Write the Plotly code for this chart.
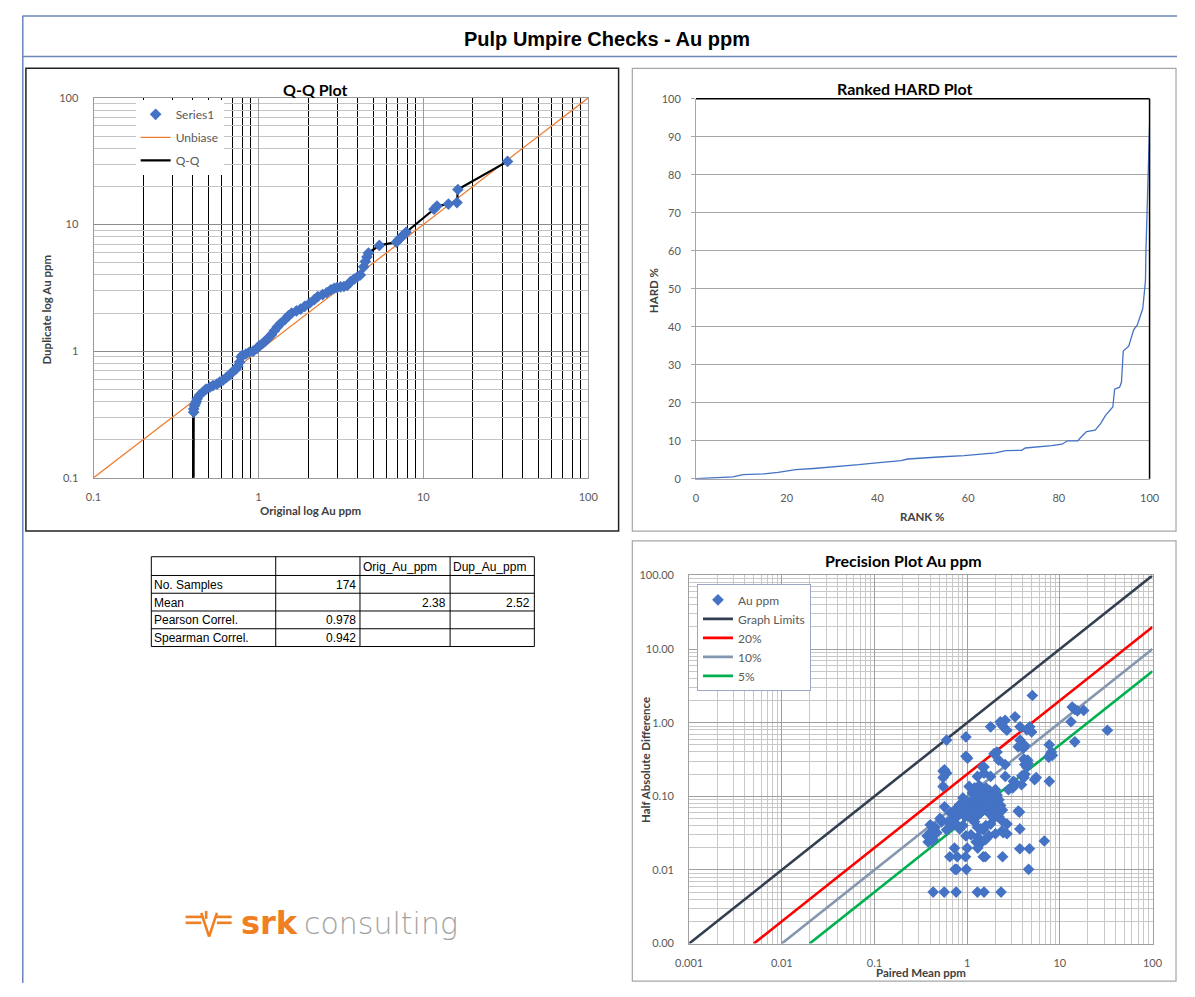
import plotly.graph_objects as go

# page body keeps an 8px margin, so the figure is drawn 8px in from the window edge
OX, OY = 8, 8
FW, FH = 1195 - 2 * OX, 997 - 2 * OY


def px(x):
    return (x - OX) / FW


def py(y):
    return 1 - (y - OY) / FH


# ---------------- data ----------------
qq_orig = [0.404, 0.405, 0.405, 0.41, 0.414, 0.42, 0.425, 0.44, 0.464, 0.48,
           0.508, 0.53, 0.56, 0.583, 0.61, 0.64, 0.669, 0.70, 0.73, 0.75,
           0.77, 0.786, 0.80, 0.84, 0.879, 0.93, 0.98, 1.01, 1.06, 1.10,
           1.156, 1.20, 1.25, 1.30, 1.36, 1.45, 1.52, 1.59, 1.70, 1.80,
           1.91, 2.05, 2.18, 2.29, 2.45, 2.60, 2.75, 2.88, 3.00, 3.15,
           3.30, 3.46, 3.62, 3.80, 3.98, 4.15, 4.35, 4.45, 4.55, 4.65,
           5.41, 6.86, 7.10, 7.34, 7.60, 7.86, 11.6, 12.1, 14.2, 16.0,
           16.2, 32.4]
qq_dup = [0.05, 0.33, 0.35, 0.37, 0.385, 0.40, 0.42, 0.45, 0.48, 0.50,
          0.52, 0.535, 0.55, 0.57, 0.59, 0.62, 0.65, 0.69, 0.72, 0.76,
          0.82, 0.90, 0.93, 0.95, 0.98, 1.00, 1.05, 1.10, 1.15, 1.20,
          1.28, 1.35, 1.45, 1.55, 1.65, 1.78, 1.90, 2.00, 2.08, 2.15,
          2.26, 2.40, 2.55, 2.70, 2.80, 2.90, 3.05, 3.14, 3.18, 3.22,
          3.24, 3.30, 3.54, 3.70, 3.85, 4.00, 4.63, 5.10, 5.55, 5.96,
          6.84, 7.26, 7.60, 7.94, 8.30, 8.69, 13.2, 14.0, 14.5, 14.9,
          18.9, 31.5]
unbias_x = [0.1, 100]
unbias_y = [0.1, 100]

hard_rank = [0, 4.2, 8.1, 10.4, 15.0, 18.1, 20.1, 22.0, 25.9, 29.0,
             32.8, 35.9, 39.8, 42.9, 45.2, 46.7, 49.8, 54.4, 59.1, 62.2,
             66.0, 68.3, 71.8, 72.6, 76.1, 78.4, 80.7, 81.9, 84.2, 84.6,
             86.1, 88.0, 89.2, 90.3, 91.9, 92.3, 93.4, 93.8, 94.2, 95.4,
             96.5, 97.3, 98.5, 98.8, 99.1, 99.2, 99.6, 100]
hard_pct = [0, 0.26, 0.5, 1.1, 1.3, 1.7, 2.0, 2.4, 2.7, 3.0,
            3.3, 3.7, 4.2, 4.6, 4.8, 5.2, 5.5, 5.8, 6.1, 6.5,
            6.8, 7.4, 7.5, 8.1, 8.4, 8.7, 9.1, 10.0, 10.0, 10.6,
            12.4, 12.8, 14.5, 16.7, 18.9, 23.6, 24.1, 25.4, 33.6, 34.9,
            39.2, 40.5, 44.8, 47.9, 52.2, 60.0, 79.9, 93.3]

prec_mean = [5.05, 13.6, 14.5, 18.1, 15.5, 13.2, 14.5, 32.6,
             3.29, 2.28, 2.57, 2.46, 2.68, 1.79, 4.73, 3.72, 4.96, 2.35, 4.4,
             0.60, 0.97, 3.72, 4.03, 7.7, 7.9, 8.1, 7.6, 8.3,
             0.97, 1.01, 2.1, 1.95, 4.1, 4.3, 4.5, 3.56, 4.19, 4.19, 4.54,
             4.2, 4.1, 4.4, 3.9, 0.55, 0.57, 0.60, 0.55, 0.55,
             1.52, 1.46, 1.52, 1.29, 1.79, 2.19, 2.58, 2.57,
             5.56, 5.35, 7.7, 3.16, 3.3, 3.86, 3.15, 2.79, 3.1,
             1.05, 1.14, 1.2, 1.25, 1.3, 1.35, 1.4, 1.45, 1.5, 1.55,
             1.6, 1.65, 1.7, 1.75, 1.8, 1.9, 2.0, 2.02, 2.1, 2.05,
             1.9, 1.2, 1.3, 1.4, 1.5, 1.6, 1.7, 1.8, 1.25, 1.35,
             1.45, 1.55, 1.65, 1.15, 1.1, 1.2, 1.3, 1.4, 1.45, 1.35,
             1.6, 1.28, 1.72, 1.9, 2.2, 2.3, 2.4, 2.15,
             0.90, 0.83, 0.76, 0.57, 0.66, 0.71, 0.51, 0.53, 0.95, 1.05,
             1.1, 0.85, 0.95, 1.0, 0.8,
             0.43, 0.40, 0.37, 0.41, 0.40, 0.43, 0.47, 0.45, 0.38, 0.42,
             0.68, 0.76, 0.83, 0.90, 0.60, 0.62,
             1.29, 1.40, 1.59, 1.79, 1.94, 1.72, 1.59, 2.02, 2.38, 2.69,
             2.69, 2.19, 1.2, 1.1, 1.3, 1.5, 0.97, 1.45, 1.25,
             3.56, 2.41, 2.45, 2.02, 3.67, 3.7, 6.8, 3.7, 4.7, 4.6,
             0.73, 1.0, 1.3,
             0.65, 0.78, 0.96, 1.49, 1.57, 2.41,
             0.77, 0.74, 0.98,
             0.43, 0.565, 0.76, 1.29, 1.52, 2.32]
prec_hd = [2.34, 1.63, 1.52, 1.47, 1.45, 1.03, 0.55, 0.79,
           1.20, 1.03, 1.08, 0.88, 0.79, 0.88, 0.88, 0.88, 0.75, 0.95, 0.80,
           0.58, 0.64, 0.58, 0.45, 0.50, 0.37, 0.40, 0.34, 0.36,
           0.35, 0.33, 0.40, 0.38, 0.32, 0.30, 0.31, 0.47, 0.49, 0.27, 0.28,
           0.20, 0.18, 0.25, 0.19, 0.22, 0.228, 0.206, 0.18, 0.136,
           0.25, 0.25, 0.206, 0.186, 0.186, 0.31, 0.186, 0.27,
           0.18, 0.168, 0.16, 0.16, 0.15, 0.144, 0.136, 0.123, 0.13,
           0.136, 0.111, 0.13, 0.12, 0.10, 0.14, 0.09, 0.12, 0.11, 0.095,
           0.13, 0.10, 0.085, 0.12, 0.105, 0.09, 0.11, 0.123, 0.104, 0.081,
           0.070, 0.08, 0.075, 0.07, 0.065, 0.075, 0.06, 0.068, 0.095, 0.085,
           0.08, 0.085, 0.09, 0.09, 0.075, 0.065, 0.055, 0.06, 0.10, 0.115,
           0.095, 0.11, 0.075, 0.10, 0.09, 0.075, 0.065, 0.06,
           0.095, 0.077, 0.067, 0.072, 0.060, 0.051, 0.05, 0.045, 0.053, 0.06,
           0.05, 0.065, 0.075, 0.085, 0.055,
           0.036, 0.032, 0.029, 0.028, 0.041, 0.026, 0.032, 0.038, 0.024, 0.025,
           0.040, 0.042, 0.036, 0.040, 0.035, 0.045,
           0.038, 0.036, 0.040, 0.042, 0.050, 0.029, 0.026, 0.031, 0.034, 0.042,
           0.031, 0.053, 0.045, 0.030, 0.028, 0.035, 0.029, 0.024, 0.024,
           0.063, 0.046, 0.032, 0.063, 0.061, 0.036, 0.0247, 0.0194, 0.0194, 0.0102,
           0.0198, 0.0198, 0.0198,
           0.0151, 0.0151, 0.0151, 0.0151, 0.0151, 0.0151,
           0.0102, 0.0102, 0.0102,
           0.005, 0.005, 0.005, 0.005, 0.005, 0.005]

lim_x, lim_y = [0.001, 100], [0.001, 100]
p20_x, p20_y = [0.005, 100], [0.001, 20]
p10_x, p10_y = [0.01, 100], [0.001, 10]
p5_x, p5_y = [0.02, 100], [0.001, 5]

qq_ticks = [0.1, 1, 10, 100]
qq_ticktext = ["0.1", "1", "10", "100"]
prec_ticks = [0.001, 0.01, 0.1, 1, 10, 100]
prec_xtext = ["0.001", "0.01", "0.1", "1", "10", "100"]
prec_ytext = ["0.00", "0.01", "0.10", "1.00", "10.00", "100.00"]
hard_xticks = [0, 20, 40, 60, 80, 100]

table_header = ["", "", "Orig_Au_ppm", "Dup_Au_ppm"]
table_rows = [
    ["No. Samples", "174", "", ""],
    ["Mean", "", "2.38", "2.52"],
    ["Pearson Correl.", "0.978", "", ""],
    ["Spearman Correl.", "0.942", "", ""],
]

# ---------------- styling ----------------
BLUE = "#4472C4"
FONT = "Lato, 'Open Sans', sans-serif"
TICKC = "#595959"
AXTC = "#404040"


def minor_vals(lo, hi):
    return [m * 10 ** e for e in range(lo, hi) for m in range(2, 10)]


fig = go.Figure()

# ---- Q-Q plot ----
fig.add_trace(go.Scatter(x=unbias_x, y=unbias_y, mode="lines", name="Unbiase",
                         line=dict(color="#ED7D31", width=1.3),
                         xaxis="x", yaxis="y", legend="legend", legendgroup="u", legendrank=2))
fig.add_trace(go.Scatter(x=qq_orig, y=qq_dup, mode="lines", name="Q-Q",
                         line=dict(color="black", width=2.2),
                         xaxis="x", yaxis="y", legend="legend", legendgroup="q", legendrank=3))
fig.add_trace(go.Scatter(x=qq_orig, y=qq_dup, mode="markers", name="Series1",
                         marker=dict(symbol="diamond", size=9, color=BLUE),
                         xaxis="x", yaxis="y", legend="legend", legendgroup="s", legendrank=1))

# ---- HARD plot ----
fig.add_trace(go.Scatter(x=hard_rank, y=hard_pct, mode="lines", name="HARD",
                         line=dict(color=BLUE, width=1.3), showlegend=False,
                         xaxis="x2", yaxis="y2"))

# ---- Precision plot ----
for nm, xs, ys, col, rk in [("Graph Limits", lim_x, lim_y, "#333F50", 2),
                            ("20%", p20_x, p20_y, "#FF0000", 3),
                            ("10%", p10_x, p10_y, "#8497B0", 4),
                            ("5%", p5_x, p5_y, "#00B050", 5)]:
    fig.add_trace(go.Scatter(x=xs, y=ys, mode="lines", name=nm,
                             line=dict(color=col, width=2.6),
                             xaxis="x3", yaxis="y3", legend="legend2", legendrank=rk))
fig.add_trace(go.Scatter(x=prec_mean, y=prec_hd, mode="markers", name="Au ppm",
                         marker=dict(symbol="diamond", size=9, color=BLUE),
                         xaxis="x3", yaxis="y3", legend="legend2", legendrank=1))

axfont = dict(family=FONT, size=11, color=TICKC)

fig.update_layout(
    width=FW, height=FH, margin=dict(l=0, r=0, t=0, b=0),
    paper_bgcolor="white", plot_bgcolor="white",
    font=dict(family=FONT, color=TICKC),
    xaxis=dict(domain=[px(81), px(586)], anchor="y", type="log", range=[-1, 2],
               tickmode="array", tickvals=qq_ticks, ticktext=qq_ticktext,
               showgrid=True, gridcolor="#9A9A9A", gridwidth=1,
               minor=dict(tickmode="array", tickvals=minor_vals(-1, 2), showgrid=True,
                          gridcolor="#000000", gridwidth=1.3, ticks=""),
               showline=True, linecolor="#9A9A9A", mirror=True, ticks="",
               tickfont=axfont, ticklabelstandoff=9, zeroline=False),
    yaxis=dict(domain=[py(477), py(92)], anchor="x", type="log", range=[-1, 2],
               tickmode="array", tickvals=qq_ticks, ticktext=qq_ticktext,
               showgrid=True, gridcolor="#8C8C8C", gridwidth=1,
               minor=dict(tickmode="array", tickvals=minor_vals(-1, 2), showgrid=True,
                          gridcolor="#C4C4C4", gridwidth=1, ticks=""),
               showline=True, linecolor="#9A9A9A", mirror=True, ticks="",
               tickfont=axfont, ticklabelstandoff=12, zeroline=False),
    xaxis2=dict(domain=[px(696), px(1159)], anchor="y2", range=[0, 100],
                tickmode="array", tickvals=hard_xticks, showgrid=False,
                showline=True, linecolor="#A6A6A6", ticks="",
                tickfont=axfont, ticklabelstandoff=9, zeroline=False),
    yaxis2=dict(domain=[py(478), py(93)], anchor="x2", range=[0, 100], dtick=10,
                showgrid=True, gridcolor="#A6A6A6", gridwidth=1,
                showline=True, linecolor="#A6A6A6", ticks="outside", ticklen=4,
                tickcolor="#A6A6A6", tickfont=axfont, ticklabelstandoff=8, zeroline=False),
    xaxis3=dict(domain=[px(689), px(1162)], anchor="y3", type="log", range=[-3, 2],
                tickmode="array", tickvals=prec_ticks, ticktext=prec_xtext,
                showgrid=True, gridcolor="#A0A0A0", gridwidth=1,
                minor=dict(tickmode="array", tickvals=minor_vals(-3, 2), showgrid=True,
                           gridcolor="#C8C8C8", gridwidth=1, ticks=""),
                showline=True, linecolor="#A0A0A0", mirror=True, ticks="",
                tickfont=axfont, ticklabelstandoff=9, zeroline=False),
    yaxis3=dict(domain=[py(949), py(576)], anchor="x3", type="log", range=[-3, 2],
                tickmode="array", tickvals=prec_ticks, ticktext=prec_ytext,
                showgrid=True, gridcolor="#A0A0A0", gridwidth=1,
                minor=dict(tickmode="array", tickvals=minor_vals(-3, 2), showgrid=True,
                           gridcolor="#C8C8C8", gridwidth=1, ticks=""),
                showline=True, linecolor="#A0A0A0", mirror=True, ticks="",
                tickfont=axfont, ticklabelstandoff=12, zeroline=False),
    legend=dict(x=px(124), y=py(94), xanchor="left", yanchor="top",
                bgcolor="white", borderwidth=0, traceorder="grouped",
                tracegroupgap=4, itemwidth=30, entrywidth=82,
                font=dict(family=FONT, size=12, color=TICKC)),
    legend2=dict(x=px(697), y=py(585), xanchor="left", yanchor="top",
                 bgcolor="white", bordercolor="#9AA8C6", borderwidth=1,
                 itemwidth=30, font=dict(family=FONT, size=12, color=TICKC)),
)

shapes = []
FRAME = "#6B86B8"
shapes.append(dict(type="line", xref="paper", yref="paper", x0=px(8.5), x1=1, y0=py(9), y1=py(9),
                   line=dict(color=FRAME, width=1.5)))
shapes.append(dict(type="line", xref="paper", yref="paper", x0=px(8.5), x1=1, y0=py(50), y1=py(50),
                   line=dict(color=FRAME, width=1.5)))
shapes.append(dict(type="line", xref="paper", yref="paper", x0=px(8.8), x1=px(8.8), y0=py(9), y1=0,
                   line=dict(color=FRAME, width=1.5)))
# panel boxes
shapes.append(dict(type="rect", xref="paper", yref="paper", x0=px(12), x1=px(617), y0=py(62), y1=py(531),
                   line=dict(color="#222222", width=1.5), layer="below"))
shapes.append(dict(type="rect", xref="paper", yref="paper", x0=px(631), x1=px(1186), y0=py(62), y1=py(531),
                   line=dict(color="#A6A6A6", width=1.2), layer="below"))
shapes.append(dict(type="rect", xref="paper", yref="paper", x0=px(631), x1=px(1186), y0=py(541), y1=py(987),
                   line=dict(color="#A6A6A6", width=1.2), layer="below"))
# HARD plot black top/right border
shapes.append(dict(type="line", xref="x2 domain", yref="y2 domain", x0=0, x1=1, y0=1, y1=1,
                   line=dict(color="black", width=1.5)))
shapes.append(dict(type="line", xref="x2 domain", yref="y2 domain", x0=1, x1=1, y0=0, y1=1,
                   line=dict(color="black", width=1.5)))

# table grid
col_x = [140, 267, 353, 445, 531]
row_y = [557, 576, 594, 612, 630, 648]
for cx in col_x:
    shapes.append(dict(type="line", xref="paper", yref="paper", x0=px(cx), x1=px(cx),
                       y0=py(row_y[0]), y1=py(row_y[-1]), line=dict(color="black", width=1)))
for ry in row_y:
    shapes.append(dict(type="line", xref="paper", yref="paper", x0=px(col_x[0]), x1=px(col_x[-1]),
                       y0=py(ry), y1=py(ry), line=dict(color="black", width=1)))

# srk logo mark
ORANGE = "#F07F21"
for (x0, y0, x1, y1) in [(175, 922, 193, 922), (175, 928, 191, 928), (205, 922, 222, 922),
                         (207, 928, 222, 928), (191, 918, 199, 942), (199, 942, 207, 918),
                         (196, 916, 196, 924)]:
    shapes.append(dict(type="line", xref="paper", yref="paper", x0=px(x0), x1=px(x1),
                       y0=py(y0), y1=py(y1), line=dict(color=ORANGE, width=2.6)))

fig.update_layout(shapes=shapes)

ann = []


def text(x, y, s, size, color="#000000", bold=False, family=FONT, xanchor="center",
         yanchor="middle", angle=0, weight=None):
    f = dict(family=family, size=size, color=color)
    if bold:
        f["weight"] = "bold"
    if weight is not None:
        f["weight"] = weight
    ann.append(dict(x=px(x), y=py(y), xref="paper", yref="paper", text=s, showarrow=False,
                    xanchor=xanchor, yanchor=yanchor, textangle=angle, font=f))


text(605, 32, "Pulp Umpire Checks - Au ppm", 20, "#000000", bold=True,
     family="'Liberation Sans', Arial, sans-serif")
text(308, 83, "Q-Q Plot", 16, "#000000", bold=True)
text(909, 82, "Ranked HARD Plot", 16, "#000000", bold=True)
text(908, 561, "Precision Plot Au ppm", 16, "#000000", bold=True)
text(302, 510, "Original log Au ppm", 11.5, AXTC, bold=True)
text(33, 306, "Duplicate log Au ppm", 11.5, AXTC, bold=True, angle=-90)
text(927, 516, "RANK %", 11.5, AXTC, bold=True)
text(652, 287, "HARD %", 11.5, AXTC, bold=True, angle=-90)
text(645, 763, "Half Absolute Difference", 11.5, AXTC, bold=True, angle=-90)
text(926, 978, "Paired Mean ppm", 11.5, AXTC, bold=True)

# table text
TF = "'Liberation Sans', Arial, sans-serif"
all_rows = [table_header] + table_rows
for ri, row in enumerate(all_rows):
    yc = (row_y[ri] + row_y[ri + 1]) / 2 + 0.5
    for ci, val in enumerate(row):
        if not val:
            continue
        numeric = ri > 0 and ci > 0
        if numeric:
            text(col_x[ci + 1] - 2, yc, val, 12, "#000000", family=TF, xanchor="right")
        else:
            text(col_x[ci] + 1, yc, val, 12, "#000000", family=TF, xanchor="left")

# logo text
text(230, 928, "srk", 32, ORANGE, bold=True, family="'DejaVu Sans', sans-serif", xanchor="left")
text(294, 929, "consulting", 30, "#A3A3A3", family="'DejaVu Sans', sans-serif", xanchor="left",
     weight=300)

fig.update_layout(annotations=ann)

fig.write_html("out.html", config={"displayModeBar": False})
